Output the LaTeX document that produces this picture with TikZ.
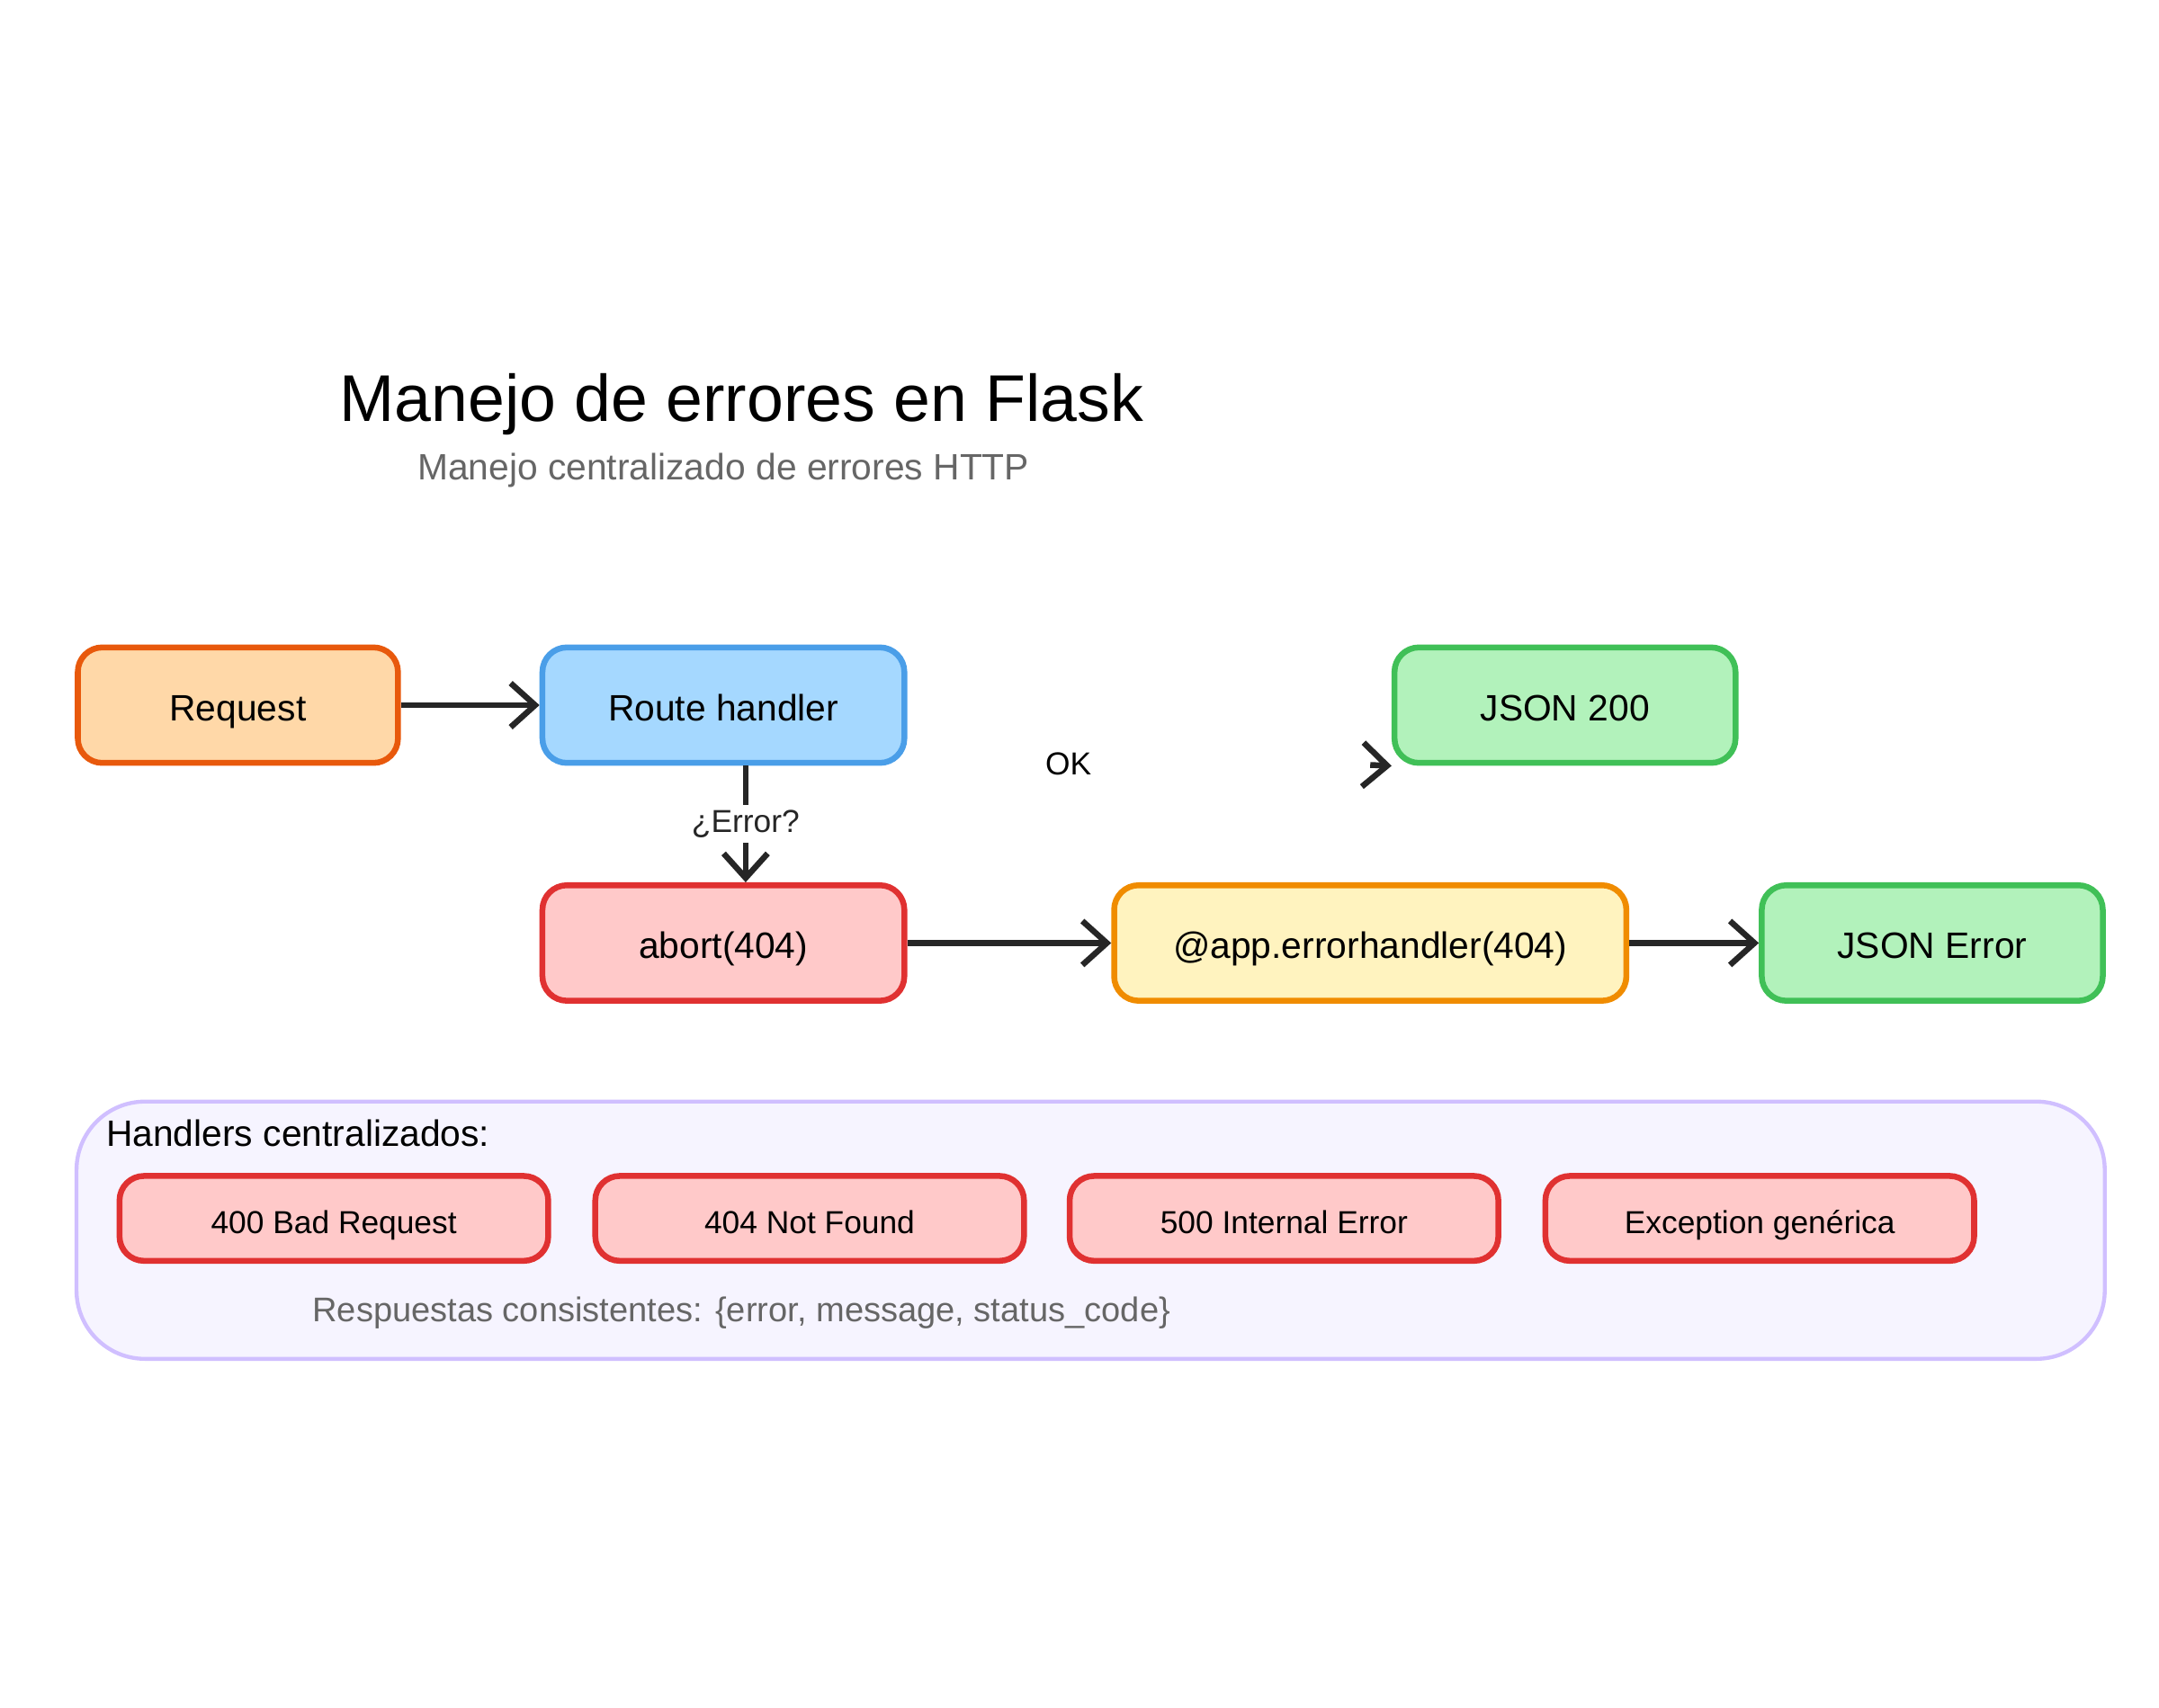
\documentclass[tikz,border=0pt]{standalone}
\usepackage{fontspec}
\setmainfont{Liberation Sans}
\usetikzlibrary{arrows.meta}
\definecolor{reqfill}{HTML}{FFD8A8}\definecolor{reqline}{HTML}{E8590C}
\definecolor{blufill}{HTML}{A5D8FF}\definecolor{bluline}{HTML}{4A9EE8}
\definecolor{grnfill}{HTML}{B2F2BB}\definecolor{grnline}{HTML}{40C057}
\definecolor{redfill}{HTML}{FFC9C9}\definecolor{redline}{HTML}{E03131}
\definecolor{ylwfill}{HTML}{FFF3BF}\definecolor{ylwline}{HTML}{F08C00}
\definecolor{vltfill}{HTML}{F6F4FF}\definecolor{vltline}{HTML}{D0BFFF}
\definecolor{greytxt}{HTML}{666666}
\tikzset{
  box/.style={draw, rounded corners=5pt, line width=1.2pt, minimum width=2.6cm, minimum height=0.83cm, text height=1.6ex, text depth=0.4ex, font=\fontsize{7.5}{9}\selectfont},
  small/.style={box, minimum width=3.08cm, minimum height=0.61cm, fill=redfill, draw=redline, font=\fontsize{6.5}{8}\selectfont},
  flow/.style={-{Straight Barb[length=5pt,width=9pt]}, line width=1.2pt, black!85}
}
\begin{document}
\begin{tikzpicture}[x=0.01cm, y=-0.01cm]
	\useasboundingbox (0,0) rectangle (1552,1228);
	
	\node (title) at (533,291) {\fontsize{13.5}{16}\selectfont Manejo de errores en Flask};
	\node[text=greytxt, font=\fontsize{7.5}{9}\selectfont] (subtitle) at (520,338) {Manejo centralizado de errores HTTP};
	
	\node[box, fill=reqfill, draw=reqline, minimum width=2.3cm] (request) at (171,507) {Request};
	\node[box, fill=blufill, draw=bluline] (route) at (520,507) {Route handler};
	\node[box, fill=grnfill, draw=grnline, minimum width=2.45cm] (json200) at (1125,507) {JSON 200};
	\node[box, fill=redfill, draw=redline] (abort) at (520,678) {abort(404)};
	\node[box, fill=ylwfill, draw=ylwline, minimum width=3.68cm] (handler) at (985,678) {@app.errorhandler(404)};
	\node[box, fill=grnfill, draw=grnline, minimum width=2.45cm] (jsonerr) at (1389,678) {JSON Error};
	
	\draw[flow] (request) -- (route);
	\draw[flow] (route.south -| 536,0) -- node[fill=white, inner sep=1pt, font=\fontsize{6.5}{8}\selectfont] {¿Error?} (abort.north -| 536,0);
	\draw[flow] (abort) -- (handler);
	\draw[flow] (handler) -- (jsonerr);
	\node[font=\fontsize{6.5}{8}\selectfont] (ok) at (768,549) {OK};
	\coordinate (okend) at (985,550);
	\draw[flow] (okend) -- (json200.south west);
	
	% handlers centralizados
	\draw[fill=vltfill, draw=vltline, line width=0.8pt, rounded corners=14pt] (55,792) rectangle (1513,977);
	\node[anchor=west, font=\fontsize{7.5}{9}\selectfont] (hlabel) at (64,815) {Handlers centralizados:};
	\node[small] (h400) at (240,876) {400 Bad Request};
	\node[small] (h404) at (582,876) {404 Not Found};
	\node[small] (h500) at (923,876) {500 Internal Error};
	\node[small] (hexc) at (1265,876) {Exception genérica};
	\node[text=greytxt, font=\fontsize{7}{9}\selectfont] (resp) at (533,944) {Respuestas consistentes: \{error, message, status\_code\}};
\end{tikzpicture}
\end{document}
